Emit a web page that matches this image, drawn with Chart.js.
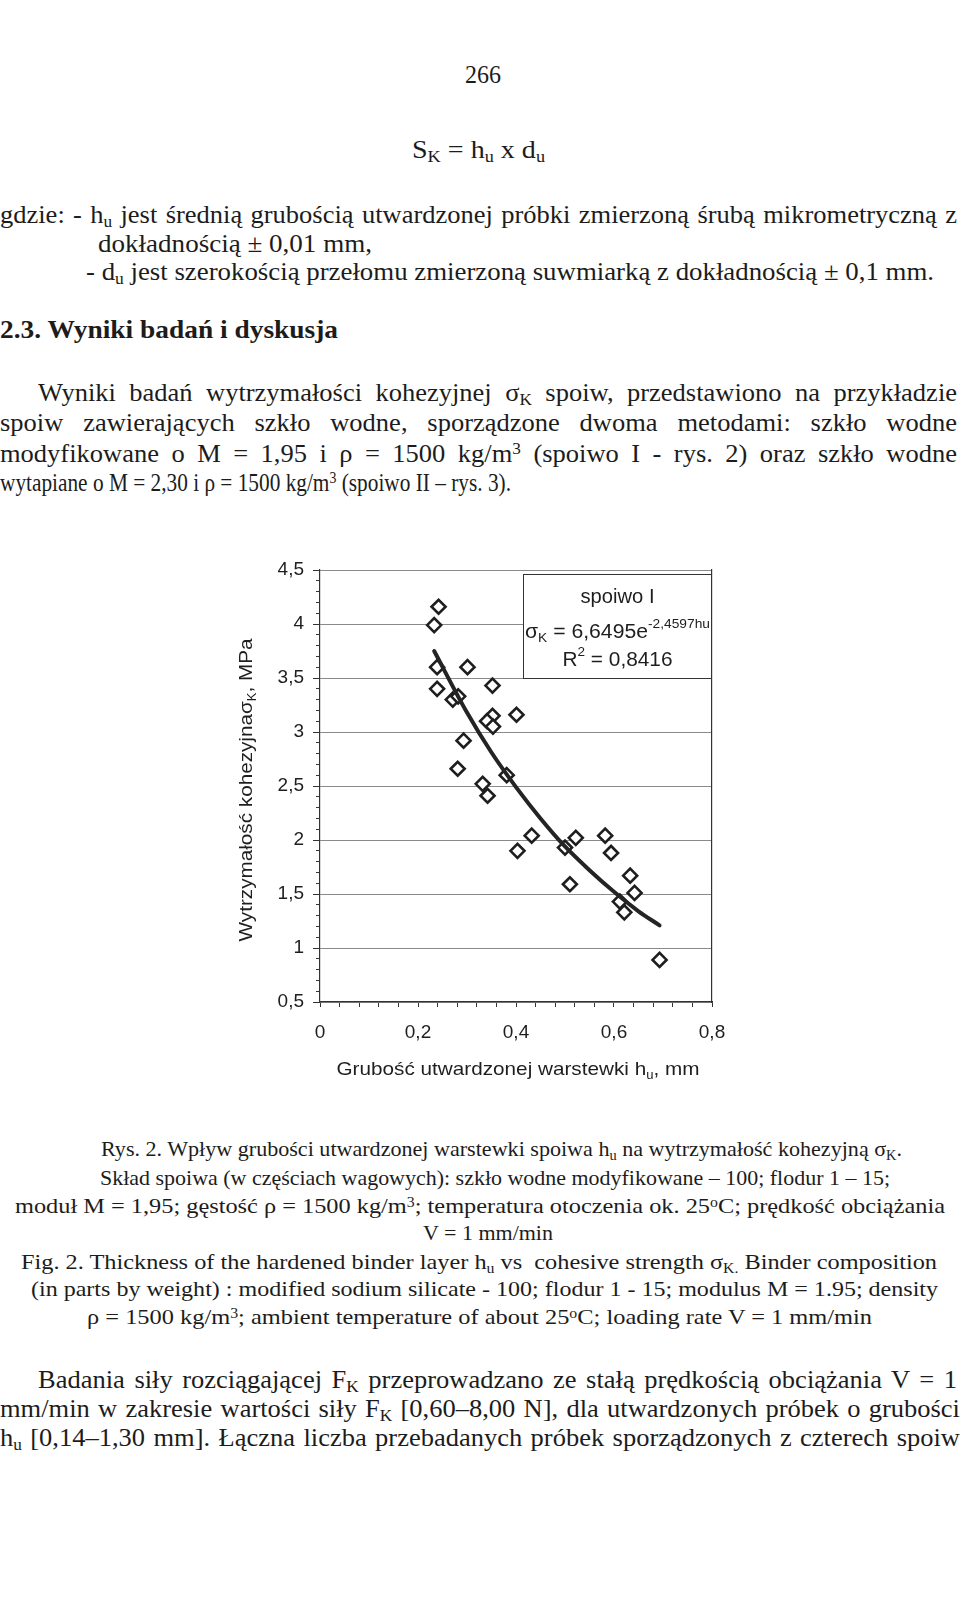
<!DOCTYPE html>
<html>
<head>
<meta charset="utf-8">
<script src="https://cdn.jsdelivr.net/npm/chart.js@4.4.0/dist/chart.umd.min.js"></script>
<style>
  body { margin: 0; width: 960px; height: 1614px; background: #fff; position: relative; overflow: hidden;
         font-family: "Liberation Serif", "DejaVu Serif", serif; color: #1c1c1c; }
  .ln { position: absolute; white-space: nowrap; line-height: 1; transform-origin: 0 50%; }
  .ln sub, .ln sup { font-size: .65em; line-height: 0; vertical-align: baseline; position: relative; }
  .ln sub { top: .3em; }
  .ln sup { top: -.45em; }
  #wrap { position: absolute; left: 200px; top: 540px; width: 540px; height: 560px; }
</style>
</head>
<body>
<div id="wrap"><canvas id="chart" width="540" height="560"></canvas></div>
<script>
// grubość warstewki h_u [mm] i wytrzymałość kohezyjna sigma_K [MPa] - spoiwo I
const hu     = [0.242, 0.233, 0.239, 0.301, 0.239, 0.352, 0.271, 0.282, 0.352, 0.341, 0.353, 0.401, 0.293, 0.281, 0.381,
                0.332, 0.342, 0.403, 0.432, 0.500, 0.522, 0.510, 0.582, 0.594, 0.633, 0.642, 0.612, 0.621, 0.693];
const sigmaK = [4.16, 3.99, 3.60, 3.60, 3.40, 3.43, 3.30, 3.33, 3.15, 3.10, 3.05, 3.16, 2.92, 2.66, 2.60,
                2.52, 2.41, 1.90, 2.04, 1.93, 2.02, 1.59, 2.04, 1.88, 1.67, 1.51, 1.43, 1.33, 0.89];

// linia trendu
const trendX = [0.233, 0.30, 0.35, 0.40, 0.45, 0.50, 0.55, 0.60, 0.65, 0.693];
const trendY = [3.75, 3.18, 2.81, 2.49, 2.20, 1.94, 1.72, 1.52, 1.34, 1.21];

const xMin = 0, xMax = 0.8, xStep = 0.04, xLabelStep = 0.2;
const yMin = 0.5, yMax = 4.5, yStep = 0.5, yMinorStep = 0.1;

// tekst strony: [html, left, centre y, width, font size, justify]
const lines = [
  ['266', 465, 74, 36, 25],
  ['S<sub>K</sub> = h<sub>u</sub> x d<sub>u</sub>', 412, 149, 133, 25],
  ['gdzie: - h<sub>u</sub> jest średnią grubością utwardzonej próbki zmierzoną śrubą mikrometryczną z', 0, 214, 957, 25, 1],
  ['dokładnością ± 0,01 mm,', 98, 243, 274, 25],
  ['- d<sub>u</sub> jest szerokością przełomu zmierzoną suwmiarką z dokładnością ± 0,1 mm.', 86, 271, 848, 25],
  ['<b>2.3. Wyniki badań i dyskusja</b>', 0, 329, 338, 25],
  ['Wyniki badań wytrzymałości kohezyjnej σ<sub>K</sub> spoiw, przedstawiono na przykładzie', 38, 392, 919, 25, 1],
  ['spoiw zawierających szkło wodne, sporządzone dwoma metodami: szkło wodne', 0, 422, 957, 25, 1],
  ['modyfikowane o M = 1,95 i ρ = 1500 kg/m<sup>3</sup> (spoiwo I - rys. 2) oraz szkło wodne', 0, 453, 957, 25, 1],
  ['wytapiane o M = 2,30 i ρ = 1500 kg/m<sup>3</sup> (spoiwo II – rys. 3).', 0, 482, 511, 25],
  ['Rys. 2. Wpływ grubości utwardzonej warstewki spoiwa h<sub>u</sub> na wytrzymałość kohezyjną σ<sub>K</sub>.', 101, 1149, 801, 22],
  ['Skład spoiwa (w częściach wagowych): szkło wodne modyfikowane – 100; flodur 1 – 15;', 100, 1178, 790, 22],
  ['moduł M = 1,95; gęstość ρ = 1500 kg/m<sup>3</sup>; temperatura otoczenia ok. 25<sup>o</sup>C; prędkość obciążania', 15, 1206, 930, 22],
  ['V = 1 mm/min', 423, 1233, 130, 22],
  ['Fig. 2. Thickness of the hardened binder layer h<sub>u</sub> vs&nbsp; cohesive strength σ<sub>K.</sub> Binder composition', 21, 1262, 916, 22],
  ['(in parts by weight) : modified sodium silicate - 100; flodur 1 - 15; modulus M = 1.95; density', 31, 1289, 907, 22],
  ['ρ = 1500 kg/m<sup>3</sup>; ambient temperature of about 25<sup>o</sup>C; loading rate V = 1 mm/min', 87, 1317, 785, 22],
  ['Badania siły rozciągającej F<sub>K</sub> przeprowadzano ze stałą prędkością obciążania V = 1', 38, 1379, 919, 25, 1],
  ['mm/min w zakresie wartości siły F<sub>K</sub> [0,60–8,00 N], dla utwardzonych próbek o grubości', 0, 1408, 960, 25, 1],
  ['h<sub>u</sub> [0,14–1,30 mm]. Łączna liczba przebadanych próbek sporządzonych z czterech spoiw', 0, 1437, 960, 25, 1]
];
const glyphStretch = 1.06;   // justowane wiersze: lekko szersze litery, reszta w odstępach

lines.forEach(([html, x, y, w, fs, justify]) => {
  const el = document.createElement('div');
  el.className = 'ln';
  el.innerHTML = html;
  el.style.fontSize = fs + 'px';
  el.style.left = x + 'px';
  el.style.top = (y - fs * 0.5) + 'px';
  document.body.appendChild(el);
  const nat = el.getBoundingClientRect().width;
  const spaces = (el.textContent.match(/[ \u00a0]/g) || []).length;
  const extra = w / glyphStretch - nat;
  if (justify && spaces && extra > 0) {
    el.style.wordSpacing = (extra / spaces) + 'px';
    el.style.transform = 'scaleX(' + glyphStretch + ')';
  } else {
    el.style.transform = 'scaleX(' + (w / nat) + ')';
  }
});

const SANS = '"Liberation Sans", Arial, sans-serif';
const INK = '#1e1e1e';
const fmt = v => String(+v.toFixed(2)).replace('.', ',');

// tekst z indeksami dolnymi / górnymi na canvasie
function drawRich(ctx, parts, cx, cy, size, targetW, rot) {
  const fontOf = p => (p[1] ? Math.round(size * 0.64) : size) + 'px ' + SANS;
  let w = 0;
  const widths = parts.map(p => { ctx.font = fontOf(p); const m = ctx.measureText(p[0]).width; w += m; return m; });
  const sx = targetW ? targetW / w : 1;
  ctx.save();
  ctx.translate(cx, cy);
  if (rot) ctx.rotate(rot);
  ctx.scale(sx, 1);
  ctx.fillStyle = INK;
  ctx.textBaseline = 'middle';
  ctx.textAlign = 'left';
  let x = -w / 2;
  parts.forEach((p, i) => {
    ctx.font = fontOf(p);
    const dy = p[1] === 'sub' ? size * 0.3 : p[1] === 'sup' ? -size * 0.36 : 0;
    ctx.fillText(p[0], x, dy);
    x += widths[i];
  });
  ctx.restore();
}

const annotations = {
  id: 'annotations',
  beforeDatasetsDraw(chart) {
    const { ctx, chartArea: a } = chart;
    const bx = a.left + 203, by = a.top + 4, bw = a.right - bx, bh = 105;
    ctx.save();
    ctx.fillStyle = '#fff';
    ctx.fillRect(bx, by, bw, bh);
    ctx.strokeStyle = '#333';
    ctx.lineWidth = 1;
    ctx.strokeRect(bx + 0.5, by + 0.5, bw - 1, bh - 1);
    ctx.restore();
    const mid = bx + bw / 2;
    drawRich(ctx, [['spoiwo I']], mid, by + 23, 20, 74);
    drawRich(ctx, [['σ'], ['K', 'sub'], [' = 6,6495e'], ['-2,4597hu', 'sup']], mid, by + 58, 20, 185);
    drawRich(ctx, [['R'], ['2', 'sup'], [' = 0,8416']], mid, by + 86, 20, 110);
  },
  afterDraw(chart) {
    const { ctx } = chart;
    drawRich(ctx, [['Wytrzymałość kohezyjna'], ['σ'], ['K', 'sub'], [', MPa']], 47, 250, 19, 303, -Math.PI / 2);
    drawRich(ctx, [['Grubość utwardzonej warstewki h'], ['u', 'sub'], [', mm']], 318, 530, 19, 363);
  }
};

new Chart(document.getElementById('chart').getContext('2d'), {
  type: 'scatter',
  data: {
    datasets: [
      {
        label: 'trend',
        type: 'line',
        data: trendX.map((x, i) => ({ x: x, y: trendY[i] })),
        borderColor: '#242424',
        borderWidth: 4,
        borderCapStyle: 'round',
        pointRadius: 0,
        fill: false,
        cubicInterpolationMode: 'monotone',
        order: 0
      },
      {
        label: 'spoiwo I',
        data: hu.map((x, i) => ({ x: x, y: sigmaK[i] })),
        pointStyle: 'rectRot',
        pointRadius: 7,
        pointBackgroundColor: '#fff',
        pointBorderColor: INK,
        pointBorderWidth: 2.6,
        order: 1
      }
    ]
  },
  options: {
    responsive: false,
    animation: false,
    layout: { padding: { left: 30, top: 30, right: 28, bottom: 38 } },
    plugins: { legend: { display: false }, tooltip: { enabled: false } },
    scales: {
      x: {
        type: 'linear', position: 'bottom', min: xMin, max: xMax,
        afterFit: s => { s.height = 60; },
        ticks: {
          stepSize: xStep, autoSkip: false, maxRotation: 0, minRotation: 0, padding: 14,
          color: INK, font: { family: SANS, size: 19 },
          callback: v => Math.abs(v / xLabelStep - Math.round(v / xLabelStep)) < 1e-6 ? fmt(v) : ''
        },
        grid: { drawOnChartArea: false, tickLength: 5, tickColor: '#333' },
        border: { color: '#333', width: 1.2 }
      },
      y: {
        position: 'left', weight: 1, min: yMin, max: yMax,
        afterFit: s => { s.width = 90; },
        ticks: { stepSize: yStep, padding: 9, color: INK, font: { family: SANS, size: 19 }, callback: v => fmt(v) },
        grid: { color: '#8a8a8a', lineWidth: 1, tickLength: 7, tickColor: '#333' },
        border: { color: '#333', width: 1.2 }
      },
      yMinor: {
        position: 'left', weight: 0, min: yMin, max: yMax,
        afterFit: s => { s.width = 0; },
        ticks: { stepSize: yMinorStep, display: false },
        grid: { drawOnChartArea: false, tickLength: 4, tickColor: '#333' },
        border: { display: false }
      },
      yRight: {
        position: 'right', min: yMin, max: yMax,
        afterFit: s => { s.width = 0; },
        ticks: { display: false },
        grid: { drawOnChartArea: false, drawTicks: false },
        border: { color: '#333', width: 1.2 }
      }
    }
  },
  plugins: [annotations]
});
</script>
</body>
</html>
